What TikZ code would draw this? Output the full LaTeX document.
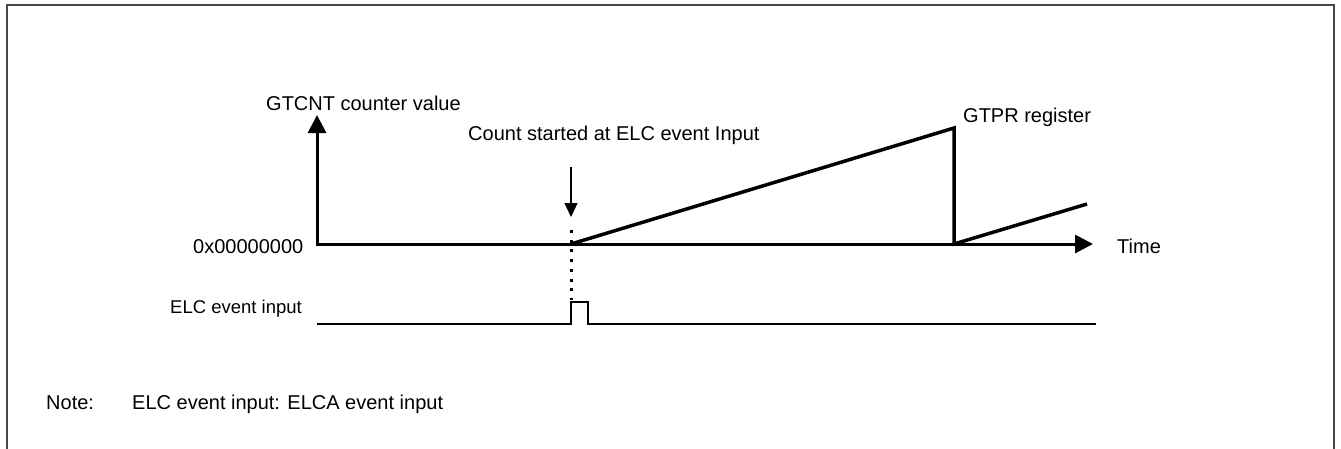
\documentclass[tikz,border=0pt]{standalone}
\usepackage{fontspec}
\setmainfont{Liberation Sans}
\usetikzlibrary{arrows.meta}
\begin{document}
\begin{tikzpicture}[x=1pt,y=-1pt,
  lbl/.style={inner sep=0pt, font=\fontsize{20}{24}\selectfont},
  smalllbl/.style={inner sep=0pt, font=\fontsize{18.5}{22}\selectfont},
  axisline/.style={line width=3pt, line join=miter, {Triangle[length=18pt,width=18pt]}-{Triangle[length=18pt,width=18pt]}},
  wave/.style={line width=3.5pt, line join=miter},
  sig/.style={line width=2pt, line join=miter},
  pointer/.style={line width=1.2pt, -{Triangle[length=14pt,width=13pt]}},
  dotline/.style={line width=3pt, dash pattern=on 3pt off 6.7pt},
  frame/.style={line width=2pt, draw=black!72},
]
\useasboundingbox (0,0) rectangle (1341,448);
\draw[frame] (7,5) rectangle (1334,470);

% coordinates
\coordinate (ytip) at (317,115);
\coordinate (orig) at (317,244);
\coordinate (xtip) at (1093,244);
\coordinate (start) at (571,244);
\coordinate (peak) at (954,128);
\coordinate (reset) at (954,244);
\coordinate (ramp2) at (1087,204);
\coordinate (ptrtop) at (571,167);
\coordinate (ptrtip) at (571,217);
\coordinate (dottop) at (571,230);
\coordinate (dotbot) at (571,300);
\coordinate (lowL) at (317,324);
\coordinate (rise0) at (571,324);
\coordinate (rise1) at (571,302);
\coordinate (fall1) at (588,302);
\coordinate (fall0) at (588,324);
\coordinate (lowR) at (1096,324);

% labels
\node[lbl, anchor=base west] (ylab) at (266,110) {GTCNT counter value};
\node[lbl, anchor=base west] (cnt) at (468,140) {Count started at ELC event Input};
\node[lbl, anchor=base west] (gtpr) at (963,122) {GTPR register};
\node[lbl, anchor=base west] (zero) at (193,253) {0x00000000};
\node[lbl, anchor=base west] (time) at (1117,253) {Time};
\node[smalllbl, anchor=base east] (elc) at (302,313) {ELC event input};
\node[lbl, anchor=base west] (note) at (46,409) {Note:};
\node[lbl, anchor=base west] (notetxt) at (132,409) {ELC event input: ELCA event input};

% axes
\draw[axisline] (ytip) -- (orig) -- (xtip);
% counter waveform
\draw[wave] (start) -- (peak) -- (reset) -- (ramp2);
% pointer arrow
\draw[pointer] (ptrtop) -- (ptrtip);
% dotted marker
\draw[dotline] (dottop) -- (dotbot);
% event input pulse
\draw[sig] (lowL) -- (rise0) -- (rise1) -- (fall1) -- (fall0) -- (lowR);
\end{tikzpicture}
\end{document}
